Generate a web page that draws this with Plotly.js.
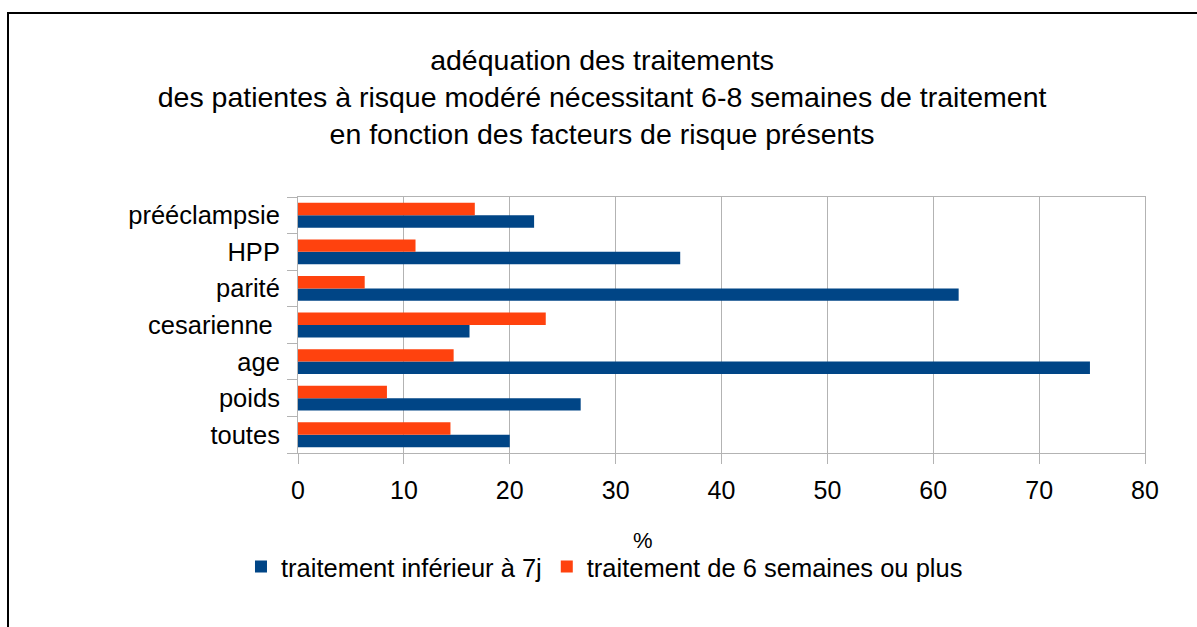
<!DOCTYPE html>
<html>
<head>
<meta charset="utf-8">
<script src="https://cdn.plot.ly/plotly-3.0.1.min.js"></script>
<style>
html,body{margin:0;padding:0;background:#fff;}
#wrap{position:relative;width:1197px;height:627px;overflow:hidden;}
#chart{position:absolute;left:0;top:0;width:1197px;height:627px;}
#frame{position:absolute;left:7px;top:12px;width:1400px;height:800px;border-left:2px solid #000;border-top:2px solid #000;pointer-events:none;}
</style>
</head>
<body>
<div id="wrap"><div id="chart"></div><div id="frame"></div></div>
<script>
const categories = ["toutes", "poids", "age", "cesarienne\u00A0", "parité", "HPP", "prééclampsie"];
const seriesNames = ["traitement inférieur à 7j", "traitement de 6 semaines ou plus"];
const inferieur7j = [20.0, 26.7, 74.8, 16.2, 62.4, 36.1, 22.3];
const sixSemainesPlus = [14.4, 8.4, 14.7, 23.4, 6.3, 11.1, 16.7];
const xTicks = [0, 10, 20, 30, 40, 50, 60, 70, 80];
const titleLines = ["adéquation des traitements",
  "des patientes à risque modéré nécessitant 6-8 semaines de traitement",
  "en fonction des facteurs de risque présents"];
const xAxisLabel = "%";

const FONT = "Liberation Sans, Arial, sans-serif";
const traces = [
  {type: "bar", orientation: "h", name: seriesNames[0], y: categories, x: inferieur7j,
   marker: {color: "#004586"}},
  {type: "bar", orientation: "h", name: seriesNames[1], y: categories, x: sixSemainesPlus,
   marker: {color: "#ff420e"}}
];
const layout = {
  width: 1197, height: 627,
  margin: {l: 298, r: 52, t: 197, b: 174, pad: 0},
  paper_bgcolor: "#fff", plot_bgcolor: "#fff",
  font: {family: FONT, color: "#000", size: 25},
  barmode: "group", bargap: 0.32, bargroupgap: 0,
  showlegend: true,
  title: {text: titleLines.join("<br>"), font: {family: FONT, size: 28.5, color: "#000"},
          x: 0.503, xanchor: "center", y: 1 - 70/627, yanchor: "middle", xref: "container", yref: "container"},
  xaxis: {range: [0, 80], tickvals: xTicks, ticktext: xTicks.map(String),
          showgrid: true, gridcolor: "#b3b3b3", gridwidth: 1,
          showline: true, linecolor: "#b3b3b3", linewidth: 1, mirror: true,
          ticks: "outside", ticklen: 10, tickcolor: "#b3b3b3", tickwidth: 1,
          ticklabelstandoff: 5,
          tickfont: {family: FONT, size: 25, color: "#000"}, zeroline: false, fixedrange: true},
  yaxis: {type: "category", categoryorder: "array", categoryarray: categories,
          showgrid: false, showline: true, linecolor: "#b3b3b3", linewidth: 1, mirror: true,
          ticks: "outside", ticklen: 10, tickcolor: "#b3b3b3", tickwidth: 1, tickson: "boundaries",
          ticklabelstandoff: 12,
          tickfont: {family: FONT, size: 25.5, color: "#000"}, fixedrange: true},
  legend: {orientation: "h", xref: "container", yref: "container", x: 0.505, xanchor: "center",
           y: 1 - 567/627, yanchor: "middle", font: {family: FONT, size: 25.5, color: "#000"},
           itemwidth: 30, tracegroupgap: 0, bgcolor: "rgba(0,0,0,0)"},
  annotations: [{text: xAxisLabel, xref: "paper", yref: "paper", x: (643 - 298) / 847, y: (453 - 540) / 256,
                 xanchor: "center", yanchor: "middle", showarrow: false,
                 font: {family: FONT, size: 22, color: "#000"}}]
};
Plotly.newPlot("chart", traces, layout, {displayModeBar: false, staticPlot: true});
</script>
</body>
</html>
